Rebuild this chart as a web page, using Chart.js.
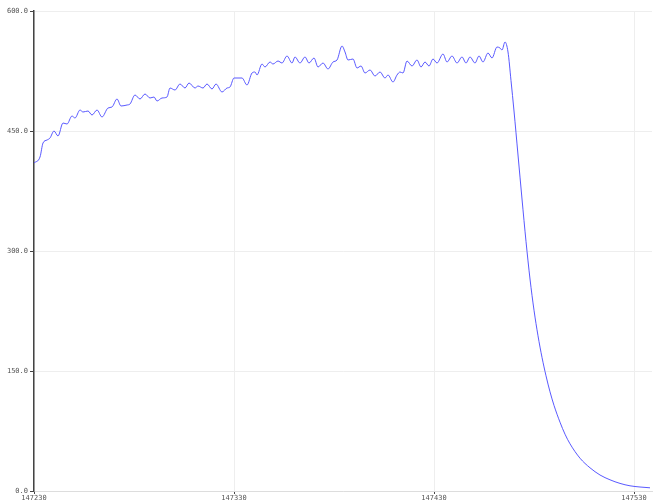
<!DOCTYPE html>
<html>
    <head>
        <title>Signal</title>
        <meta charset="utf-8" />
        <script src="https://cdn.jsdelivr.net/npm/chart.js@4.4.0/dist/chart.umd.min.js"></script>
        <style>
            * { margin: 0; padding: 0; box-sizing: border-box; }
            body { background-color: #ffffff; }
        </style>
    </head>
    <body>
        <canvas id="myChart" width="653" height="502"></canvas>

        <script>
            // sample index (x) and reading (y)
            const xValues = [
                147230, 147233, 147234.5, 147236.5, 147238, 147240, 147242, 147244.5, 147246.5, 147249,
                147250.5, 147253, 147254.5, 147257, 147259, 147261.5, 147264, 147267, 147269, 147271.5,
                147273.5, 147276.5, 147278, 147280.5, 147283, 147285.5, 147288, 147290, 147291.5, 147294,
                147296.5, 147298, 147300.5, 147303, 147305.5, 147307.5, 147310.5, 147312, 147314.5, 147316.5,
                147319, 147321, 147324, 147326.5, 147328, 147330, 147332, 147334, 147336.5, 147339,
                147340.5, 147341.5, 147344, 147345.5, 147348, 147349.5, 147352, 147354, 147356.5, 147359,
                147360.5, 147363, 147365.5, 147367.5, 147370, 147372, 147374.5, 147377, 147379.5, 147381.5,
                147384, 147385.5, 147387, 147389.5, 147391.5, 147393.5, 147395.5, 147398, 147400.5, 147403,
                147405.5, 147407, 147409.5, 147411.5, 147413, 147414.5, 147416.5, 147419, 147421.5, 147423.5,
                147425.5, 147427.5, 147429.5, 147431.5, 147434.5, 147436.5, 147439, 147441.5, 147444, 147446,
                147448, 147450.5, 147452.5, 147454.5, 147457, 147459, 147461.5, 147463, 147464, 147465.5,
                147467, 147468.5, 147470, 147472, 147474, 147476, 147478, 147480, 147482, 147484,
                147486, 147488, 147490, 147493, 147495.5, 147498, 147503, 147508, 147513, 147518,
                147523, 147528, 147533, 147538
            ];
            const yValues = [
                410, 417.5, 435, 438.75, 441.25, 450, 443.75, 460, 458.75, 468.75,
                466.25, 476.25, 473.75, 475, 470, 476.25, 467.5, 478.75, 480, 490,
                481.25, 482.5, 483.75, 495, 490, 496.25, 491.25, 492.5, 487.5, 491.25,
                492.5, 503.75, 501.25, 508.75, 503.75, 510, 503.75, 506.25, 503.75, 508.75,
                502.5, 508.75, 498.75, 503.75, 505, 516.25, 516.25, 516.25, 507.5, 522.5,
                523.75, 520, 533.75, 530, 536.25, 533.75, 537.5, 535, 543.75, 535,
                542.5, 535, 542.5, 535, 541.25, 530, 535, 527.5, 536.25, 538.75,
                556.25, 548.75, 538.75, 540, 528.75, 531.25, 522.5, 526.25, 518.75, 523.75,
                516.25, 520, 511.25, 520, 523.75, 522.5, 537.5, 531.25, 538.75, 530,
                536.25, 531.25, 540, 535, 546.25, 536.25, 543.75, 535, 542.5, 535,
                542.5, 535, 543.75, 536.25, 547.5, 541.25, 555, 553.75, 551.25, 561.25,
                548.75, 513, 475, 420, 365, 312, 265, 226, 194, 167,
                144, 124, 107, 86, 71, 59, 41, 29, 20, 14,
                9.5, 6.5, 5, 4
            ];
            const xTicks = [147230, 147330, 147430, 147530];
            const yTicks = [0, 150, 300, 450, 600];

            const points = xValues.map((x, i) => ({ x: x, y: yValues[i] }));

            const tickFont = { family: 'DejaVu Sans Mono', size: 7 };

            const chartConfig = {
                type: 'line',
                data: {
                    datasets: [{
                        data: points,
                        borderColor: 'rgba(80, 80, 255, 0.95)',
                        borderWidth: 1,
                        pointRadius: 0,
                        cubicInterpolationMode: 'monotone',
                        fill: false
                    }]
                },
                options: {
                    responsive: false,
                    animation: false,
                    layout: { padding: { top: 11, right: 1, left: 0, bottom: 0 } },
                    plugins: {
                        legend: { display: false },
                        tooltip: { enabled: false }
                    },
                    scales: {
                        x: {
                            type: 'linear',
                            min: 147230,
                            max: 147539,
                            afterBuildTicks: scale => {
                                scale.ticks = xTicks.map(v => ({ value: v }));
                            },
                            afterFit: scale => { scale.height = 11; },
                            border: { color: '#dddddd', width: 1 },
                            grid: { color: '#eeeeee', tickColor: '#444444', tickLength: 3 },
                            ticks: {
                                font: tickFont,
                                color: '#555555',
                                padding: 0,
                                maxRotation: 0,
                                callback: v => String(v)
                            }
                        },
                        y: {
                            min: 0,
                            max: 600,
                            afterBuildTicks: scale => {
                                scale.ticks = yTicks.map(v => ({ value: v }));
                            },
                            afterFit: scale => { scale.width = 34; },
                            border: { color: '#444444', width: 1.5 },
                            grid: { color: '#eeeeee', tickColor: '#444444', tickLength: 4 },
                            ticks: {
                                font: tickFont,
                                color: '#555555',
                                padding: 2,
                                callback: v => v.toFixed(1)
                            }
                        }
                    }
                }
            };

            new Chart(document.getElementById('myChart'), chartConfig);
        </script>
    </body>
</html>
